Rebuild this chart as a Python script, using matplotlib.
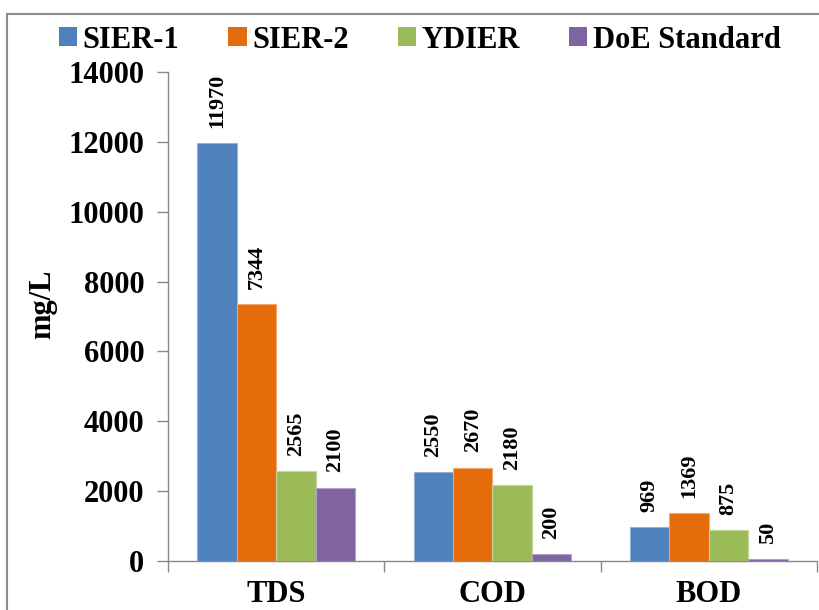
import matplotlib
matplotlib.use("Agg")
import matplotlib.pyplot as plt
import matplotlib.patches as mpatches
import numpy as np

categories = ["TDS", "COD", "BOD"]
series_names = ["SIER-1", "SIER-2", "YDIER", "DoE Standard"]
sier1 = [11970, 2550, 969]
sier2 = [7344, 2670, 1369]
ydier = [2565, 2180, 875]
doe = [2100, 200, 50]
yticks = [0, 2000, 4000, 6000, 8000, 10000, 12000, 14000]

colors = ["#4F81BD", "#E46C0A", "#9BBB59", "#8064A2"]
edges = ["#95B3D7", "#F5A86E", "#C3D69B", "#B3A2C7"]

plt.rcParams['font.family'] = ['Liberation Serif', 'DejaVu Serif']
plt.rcParams['font.weight'] = 'bold'

fig = plt.figure(figsize=(8.19, 6.10), dpi=100)
ax = fig.add_axes([168/819, 1-561/610, (817-168)/819, (561-72)/610])

x = np.arange(len(categories))
w = 0.182
data = [sier1, sier2, ydier, doe]
for i, (vals, c, ec, name) in enumerate(zip(data, colors, edges, series_names)):
    pos = x + (i - 1.5) * w
    bars = ax.bar(pos, vals, width=w, color=c, edgecolor=ec, linewidth=0.8, label=name, zorder=3)
    for b, v in zip(bars, vals):
        ax.annotate(str(v), (b.get_x() + b.get_width()/2, v), xytext=(0, 11),
                    textcoords="offset points", rotation=90, ha="center", va="bottom",
                    fontsize=16, fontweight="bold")

ax.set_xlim(-0.5, 2.5)
ax.set_ylim(0, 14000)
ax.set_yticks(yticks)
ax.set_yticklabels([str(t) for t in yticks], fontsize=22, fontweight="bold")
ax.set_xticks(x)
ax.set_xticklabels(categories, fontsize=22, fontweight="bold")
ax.set_xticks([-0.5, 0.5, 1.5, 2.5], minor=True)
ax.tick_params(axis="x", which="major", length=0, pad=14)
ax.tick_params(axis="x", which="minor", length=8, width=1, color="#888888", direction="out")
ax.tick_params(axis="y", length=8, width=1, color="#888888", direction="out", pad=9)
for s in ["top", "right"]:
    ax.spines[s].set_visible(False)
for s in ["left", "bottom"]:
    ax.spines[s].set_color("#888888")
    ax.spines[s].set_linewidth(1)

fig.text(43/819, 1-304/610, "mg/L", rotation=90, ha="center", va="center",
         fontsize=22, fontweight="bold")

handles = [mpatches.Patch(facecolor=c, edgecolor="none") for c in colors]
fig.legend(handles, series_names, loc="center left", bbox_to_anchor=(59/819, 1-40/610),
           ncol=4, frameon=False, handlelength=0.6, handleheight=0.55,
           handletextpad=0.18, columnspacing=1.6, borderpad=0, borderaxespad=0,
           prop={"family": "Liberation Serif", "weight": "bold", "size": 22})

border = mpatches.Rectangle((7/819, -0.1), 1.2, 1 - 14/610 + 0.1, transform=fig.transFigure,
                            fill=False, edgecolor="#8c8c8c", linewidth=1.5)
fig.patches.append(border)

fig.savefig("out.png", dpi=100)
